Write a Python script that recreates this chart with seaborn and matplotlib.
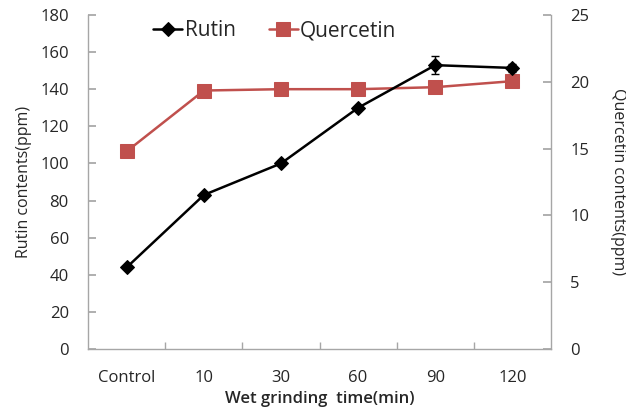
import matplotlib
matplotlib.use("Agg")
import matplotlib.pyplot as plt
import seaborn as sns
import pandas as pd

categories = ["Control", "10", "30", "60", "90", "120"]
rutin = [44, 83, 100, 130, 153, 151.5]
rutin_err = [0, 0, 0, 0, 5, 2]
quercetin = [14.8, 19.35, 19.45, 19.45, 19.6, 20.05]

sns.set_theme(style="white")
plt.rcParams['font.family'] = ['Open Sans', 'DejaVu Sans']

fig = plt.figure(figsize=(6.26, 4.08), dpi=100)
ax = fig.add_axes([0.141, 0.145, 0.739, 0.818])
ax2 = ax.twinx()

pos = list(range(len(categories)))
df = pd.DataFrame({"pos": pos, "cat": categories, "rutin": rutin,
                   "err": rutin_err, "quercetin": quercetin})

red = "#C0504D"
sns.lineplot(data=df, x="pos", y="quercetin", ax=ax2, color=red, marker="s",
             markersize=10, markeredgecolor=red, linewidth=1.8, label="Quercetin",
             legend=False)
sns.lineplot(data=df, x="pos", y="rutin", ax=ax, color="black", marker="D",
             markersize=7.5, markeredgecolor="black", linewidth=1.8, label="Rutin",
             legend=False, zorder=5)
ax.errorbar(df["pos"], df["rutin"], yerr=df["err"], fmt="none", ecolor="black",
            elinewidth=1, capsize=3, zorder=5)
ax.set_zorder(ax2.get_zorder() + 1)
ax.patch.set_visible(False)

ax.set_xlim(-0.5, len(categories) - 0.5)
ax.set_ylim(0, 180)
ax2.set_ylim(0, 25)
ax.set_yticks(range(0, 181, 20))
ax2.set_yticks(range(0, 26, 5))
ax.set_xticks(pos)
ax.set_xticklabels(categories)
ax.set_xticks([p + 0.5 for p in pos[:-1]], minor=True)

gray = "#A6A6A6"
for a in (ax, ax2):
    for s in a.spines.values():
        s.set_visible(False)
ax.spines["left"].set_visible(True)
ax.spines["bottom"].set_visible(True)
ax2.spines["right"].set_visible(True)
for s in (ax.spines["left"], ax.spines["bottom"], ax2.spines["right"]):
    s.set_color(gray)
    s.set_linewidth(1)

ax.tick_params(axis="y", which="major", direction="in", length=6, color=gray,
               labelsize=12, pad=14, left=True)
ax.tick_params(axis="x", which="major", length=0, labelsize=12, pad=15)
ax.tick_params(axis="x", which="minor", direction="in", length=5, color=gray,
               bottom=True)
ax2.tick_params(axis="y", direction="in", length=6, color=gray, labelsize=12,
                pad=14, right=True)

ax.set_xlabel("Wet grinding  time(min)", fontsize=12, fontweight="semibold",
              labelpad=4)
ax.set_ylabel("Rutin contents(ppm)", fontsize=11.5, labelpad=6)
ax2.set_ylabel("Quercetin contents(ppm)", fontsize=11.5, rotation=-90,
               labelpad=26)

h1, l1 = ax.get_legend_handles_labels()
h2, l2 = ax2.get_legend_handles_labels()
ax.legend(h1 + h2, l1 + l2, loc="upper left", bbox_to_anchor=(0.1, 1.04),
          ncol=2, frameon=False, fontsize=15, handlelength=1.4,
          handletextpad=0.1, columnspacing=1.6)

fig.savefig("out.png", dpi=100)
